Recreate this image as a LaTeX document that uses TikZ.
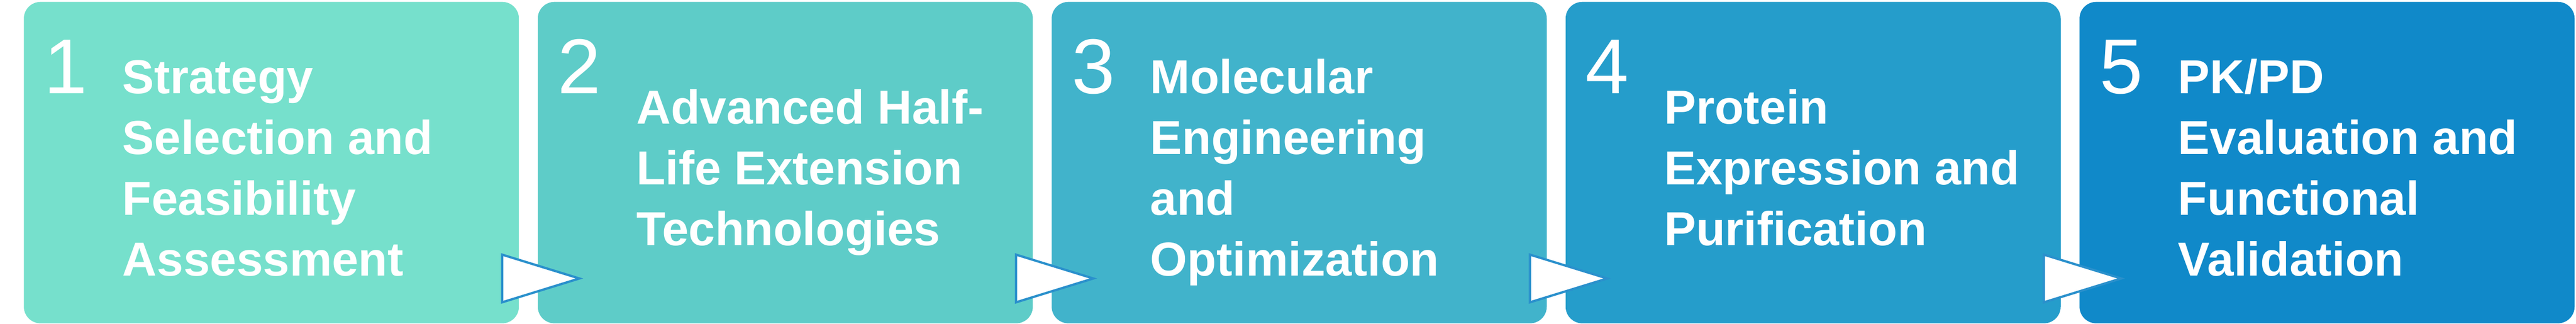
\documentclass[tikz,border=0pt]{standalone}
\usepackage{fontspec}
\setmainfont{Liberation Sans}

\definecolor{stepA}{HTML}{76E0CC}
\definecolor{stepB}{HTML}{5ECCC8}
\definecolor{stepC}{HTML}{41B3CB}
\definecolor{stepD}{HTML}{259DCB}
\definecolor{stepE}{HTML}{1089C9}
\definecolor{tipline}{HTML}{2A90CC}

\begin{document}
\begin{tikzpicture}
	\tikzstyle{stepbox}=[rounded corners=0.35cm,minimum width=10.38cm,minimum height=6.74cm,inner sep=0]
	\tikzstyle{stepnum}=[anchor=base west,inner sep=0,text=white,font=\fontsize{46.4pt}{50pt}\selectfont]
	\tikzstyle{steptext}=[anchor=west,align=left,inner sep=0,text=white,font=\fontsize{28.45pt}{36.2pt}\selectfont\bfseries]
	\tikzstyle{arrowtri}=[draw=tipline,fill=white,line width=1.35pt]

	\useasboundingbox (0,0) rectangle (54.01,6.79);

	\node[stepbox,fill=stepA](s1) at (5.69,3.38){};
	\node[stepbox,fill=stepB](s2) at (16.465,3.38){};
	\node[stepbox,fill=stepC](s3) at (27.24,3.38){};
	\node[stepbox,fill=stepD](s4) at (38.015,3.38){};
	\node[stepbox,fill=stepE](s5) at (48.79,3.38){};

	% step numbers
	\node[stepnum](n1) at ([shift={(0.42,-1.93)}]s1.north west){1};
	\node[stepnum](n2) at ([shift={(0.42,-1.93)}]s2.north west){2};
	\node[stepnum](n3) at ([shift={(0.42,-1.93)}]s3.north west){3};
	\node[stepnum](n4) at ([shift={(0.42,-1.93)}]s4.north west){4};
	\node[stepnum](n5) at ([shift={(0.42,-1.93)}]s5.north west){5};

	% step titles
	\node[steptext](t1) at ([shift={(2.07,-0.21)}]s1.west){\strut Strategy\\Selection and\\Feasibility\\Assessment\strut};
	\node[steptext](t2) at ([shift={(2.07,-0.21)}]s2.west){\strut Advanced Half-\\Life Extension\\Technologies\strut};
	\node[steptext](t3) at ([shift={(2.07,-0.21)}]s3.west){\strut Molecular\\Engineering\\and\\Optimization\strut};
	\node[steptext](t4) at ([shift={(2.07,-0.21)}]s4.west){\strut Protein\\Expression and\\Purification\strut};
	\node[steptext](t5) at ([shift={(2.07,-0.21)}]s5.west){\strut PK/PD\\Evaluation and\\Functional\\Validation\strut};

	% arrows between steps
	\draw[arrowtri] ([shift={(-0.36,-1.93)}]s1.east) -- ([shift={(-0.36,-2.93)}]s1.east) -- ([shift={(0.88,-2.43)}]s2.west) -- cycle;
	\draw[arrowtri] ([shift={(-0.36,-1.93)}]s2.east) -- ([shift={(-0.36,-2.93)}]s2.east) -- ([shift={(0.88,-2.43)}]s3.west) -- cycle;
	\draw[arrowtri] ([shift={(-0.36,-1.93)}]s3.east) -- ([shift={(-0.36,-2.93)}]s3.east) -- ([shift={(0.88,-2.43)}]s4.west) -- cycle;
	\draw[arrowtri] ([shift={(-0.36,-1.93)}]s4.east) -- ([shift={(-0.36,-2.93)}]s4.east) -- ([shift={(0.88,-2.43)}]s5.west) -- cycle;
\end{tikzpicture}
\end{document}
